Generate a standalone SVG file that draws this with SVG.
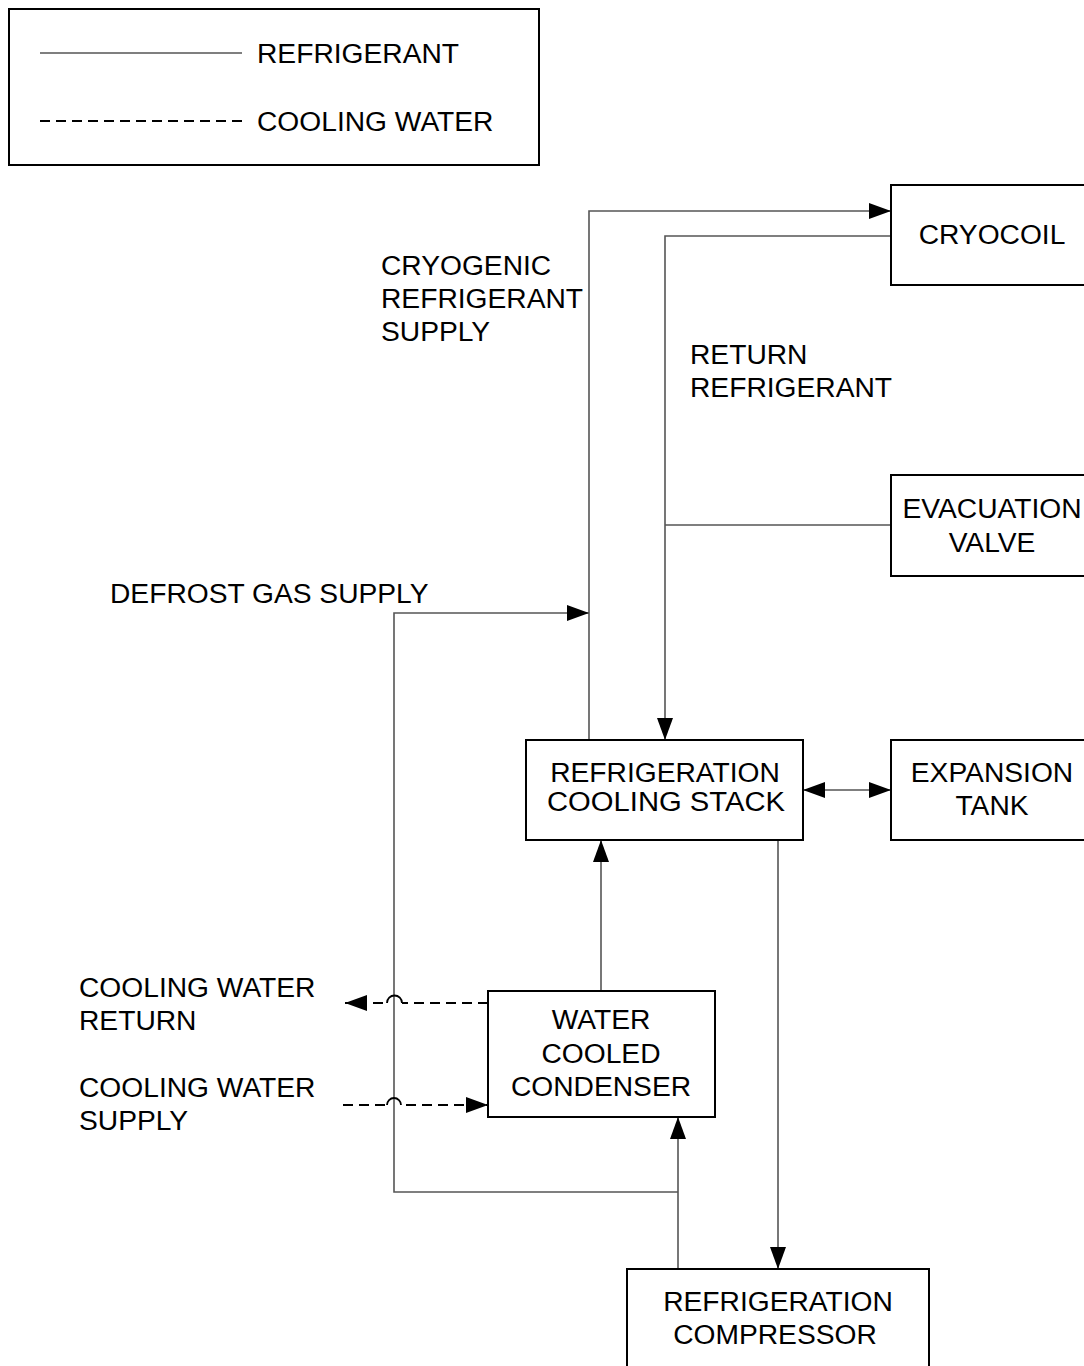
<svg xmlns="http://www.w3.org/2000/svg" width="1084" height="1366" viewBox="0 0 1084 1366">
<style>
  .box { fill: #fff; stroke: #000; stroke-width: 2; }
  .txt { font-family: "Liberation Sans", Arial, sans-serif; font-size: 28.2px; fill: #000; }
  .mid { text-anchor: middle; }
  .ref { fill: none; stroke: #555; stroke-width: 1.6; }
  .cw { fill: none; stroke: #000; stroke-width: 1.8; stroke-dasharray: 10 6; }
  .hop { fill: none; stroke: #000; stroke-width: 1.8; }
</style>
<defs>
  <marker id="ah" markerUnits="userSpaceOnUse" markerWidth="24" markerHeight="18" refX="22" refY="8.5" orient="auto-start-reverse" viewBox="0 0 24 18">
    <path d="M0,0.5 L22,8.5 L0,16.5 Z" fill="#000" stroke="none"/>
  </marker>
</defs>
<rect width="1084" height="1366" fill="#fff"/>

<g id="legend">
  <rect class="box" x="9" y="9" width="530" height="156"/>
  <line x1="40" y1="53" x2="242" y2="53" stroke="#555" stroke-width="1.6"/>
  <text class="txt" x="257" y="63">REFRIGERANT</text>
  <line x1="40" y1="121" x2="242" y2="121" class="cw"/>
  <text class="txt" x="257" y="131">COOLING WATER</text>
</g>

<g id="connectors">
  <path class="ref" d="M589,740 V211 H891" marker-end="url(#ah)"/>
  <path class="ref" d="M891,236 H665 V740" marker-end="url(#ah)"/>
  <path class="ref" d="M891,525 H665"/>
  <path class="ref" d="M678,1192 H394 V613 H589" marker-end="url(#ah)"/>
  <path class="ref" d="M678,1269 V1117" marker-end="url(#ah)"/>
  <path class="ref" d="M601,991 V840" marker-end="url(#ah)"/>
  <path class="ref" d="M778,840 V1269" marker-end="url(#ah)"/>
  <path class="ref" d="M803,790 H891" marker-start="url(#ah)" marker-end="url(#ah)"/>
  <!-- cooling water return with hop -->
  <path class="cw" d="M488,1003 H402"/>
  <path class="hop" d="M402,1003 A7,7 0 0 0 387,1003"/>
  <path class="cw" d="M383,1003 H345" marker-end="url(#ah)"/>
  <!-- cooling water supply with hop -->
  <path class="cw" d="M343,1105 H385"/>
  <path class="hop" d="M387,1105 A7,7 0 0 1 401,1105"/>
  <path class="cw" d="M406,1105 H488" marker-end="url(#ah)"/>
</g>

<g id="cryocoil">
  <rect class="box" x="891" y="185" width="210" height="100"/>
  <text class="txt mid" x="992" y="244">CRYOCOIL</text>
</g>
<g id="evacuation-valve">
  <rect class="box" x="891" y="475" width="210" height="101"/>
  <text class="txt mid" x="992" y="518">EVACUATION</text>
  <text class="txt mid" x="992" y="552">VALVE</text>
</g>
<g id="expansion-tank">
  <rect class="box" x="891" y="740" width="210" height="100"/>
  <text class="txt mid" x="992" y="782">EXPANSION</text>
  <text class="txt mid" x="992" y="815">TANK</text>
</g>
<g id="cooling-stack">
  <rect class="box" x="526" y="740" width="277" height="100"/>
  <text class="txt mid" x="665" y="782">REFRIGERATION</text>
  <text class="txt mid" x="666" y="811" textLength="238" lengthAdjust="spacingAndGlyphs">COOLING STACK</text>
</g>
<g id="condenser">
  <rect class="box" x="488" y="991" width="227" height="126"/>
  <text class="txt mid" x="601" y="1029">WATER</text>
  <text class="txt mid" x="601" y="1063">COOLED</text>
  <text class="txt mid" x="601" y="1096">CONDENSER</text>
</g>
<g id="compressor">
  <rect class="box" x="627" y="1269" width="302" height="120"/>
  <text class="txt mid" x="778" y="1311">REFRIGERATION</text>
  <text class="txt mid" x="775" y="1344">COMPRESSOR</text>
</g>

<g id="labels">
  <text class="txt" x="381" y="275">CRYOGENIC</text>
  <text class="txt" x="381" y="308">REFRIGERANT</text>
  <text class="txt" x="381" y="341">SUPPLY</text>
  <text class="txt" x="690" y="364">RETURN</text>
  <text class="txt" x="690" y="397">REFRIGERANT</text>
  <text class="txt" x="110" y="603">DEFROST GAS SUPPLY</text>
  <text class="txt" x="79" y="997">COOLING WATER</text>
  <text class="txt" x="79" y="1030">RETURN</text>
  <text class="txt" x="79" y="1097">COOLING WATER</text>
  <text class="txt" x="79" y="1130">SUPPLY</text>
</g>
</svg>
